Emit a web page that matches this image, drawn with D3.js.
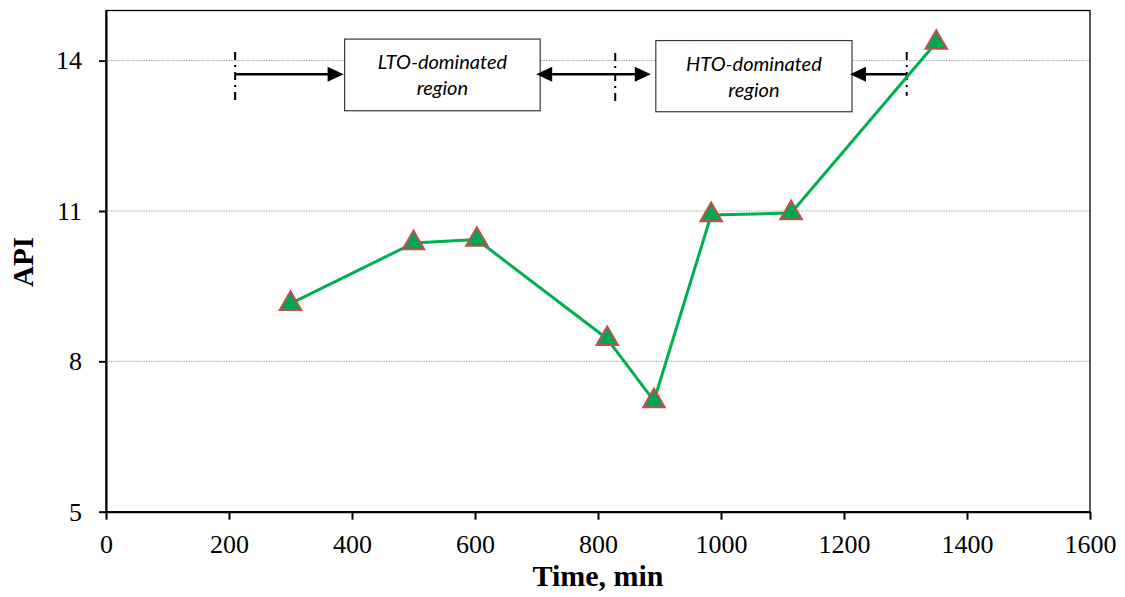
<!DOCTYPE html>
<html>
<head>
<meta charset="utf-8">
<script src="https://cdn.jsdelivr.net/npm/d3@7"></script>
<style>
  html, body { margin: 0; padding: 0; background: #fff; }
  svg { display: block; }
  .serif text { font-family: "Liberation Serif", "Times New Roman", serif; }
</style>
</head>
<body>
<svg id="chart" width="1125" height="597"></svg>
<script>
// Measured API over the course of the run
const timeMin = [300, 500, 603, 815, 891, 984, 1114, 1350];
const apiValues = [9.15, 10.36, 10.43, 8.45, 7.21, 10.92, 10.96, 14.36];

// Axis ticks
const xTicks = [0, 200, 400, 600, 800, 1000, 1200, 1400, 1600];
const yTicks = [5, 8, 11, 14];
const gridValues = [8, 11, 14];

// Region boundaries (min) and the labelled regions between them
const boundaries = [210, 828, 1302];
const regionLabels = [["LTO-dominated", "region"], ["HTO-dominated", "region"]];
const regionStart = [388, 894];
const regionEnd = [706, 1213];
const regionTop = [14.43, 14.4];
const regionBottom = [13.0, 12.98];

const W = 1125, H = 597;
const plot = { left: 106, right: 1090, top: 10.5, bottom: 511.7 };
const SERIF = "'Liberation Serif', 'Times New Roman', serif";

const svg = d3.select("#chart");
const x = d3.scaleLinear().domain([0, 1600]).range([plot.left, plot.right]);
const y = d3.scaleLinear().domain([5, 15]).range([plot.bottom, plot.top]);

// Dotted horizontal gridlines
svg.append("g").selectAll("line").data(gridValues).join("line")
  .attr("x1", plot.left).attr("x2", plot.right)
  .attr("y1", d => y(d)).attr("y2", d => y(d))
  .attr("stroke", "#a6a6a6").attr("stroke-width", 1)
  .attr("stroke-dasharray", "1.5,1");

// Plot frame
svg.append("rect")
  .attr("x", plot.left).attr("y", plot.top)
  .attr("width", plot.right - plot.left).attr("height", plot.bottom - plot.top)
  .attr("fill", "none").attr("stroke", "#000").attr("stroke-width", 1.3);

// Axes
const xAxis = svg.append("g")
  .attr("class", "serif")
  .attr("transform", `translate(0,${plot.bottom})`)
  .call(d3.axisBottom(x).tickValues(xTicks).tickSize(8).tickSizeOuter(0).tickFormat(d3.format("d")));
xAxis.attr("font-family", SERIF).attr("font-size", 26);
xAxis.selectAll("text")
  .attr("y", 41).attr("dy", null)
  .style("font-family", SERIF).style("font-size", "26px").attr("fill", "#000");

const yAxis = svg.append("g")
  .attr("class", "serif")
  .attr("transform", `translate(${plot.left},0)`)
  .call(d3.axisLeft(y).tickValues(yTicks).tickSize(7).tickSizeOuter(0).tickPadding(17).tickFormat(d3.format("d")));
yAxis.attr("font-family", SERIF).attr("font-size", 26);
yAxis.selectAll("text")
  .style("font-family", SERIF).style("font-size", "26px").attr("fill", "#000");

[xAxis, yAxis].forEach(g => {
  g.select(".domain").attr("stroke", "#000").attr("stroke-width", 2);
  g.selectAll(".tick line").attr("stroke", "#000").attr("stroke-width", 2);
});

// Axis titles
svg.append("text")
  .attr("x", (plot.left + plot.right) / 2).attr("y", 586)
  .attr("text-anchor", "middle")
  .style("font-family", SERIF)
  .attr("font-weight", "bold").attr("font-size", 30)
  .text("Time, min");

svg.append("text")
  .attr("transform", `translate(33,262) rotate(-90)`)
  .attr("text-anchor", "middle")
  .style("font-family", SERIF)
  .attr("font-weight", "bold").attr("font-size", 29)
  .text("API");

// Region annotations
const ann = svg.append("g");
const arrowY = y(13.73);

// dash-dot boundary markers
const bTop = [14.17, 14.15, 14.17];
const bBottom = [13.2, 13.14, 13.3];
ann.selectAll("line.boundary").data(boundaries).join("line")
  .attr("class", "boundary")
  .attr("x1", d => x(d)).attr("x2", d => x(d))
  .attr("y1", (d, i) => y(bTop[i])).attr("y2", (d, i) => y(bBottom[i]))
  .attr("stroke", "#000").attr("stroke-width", 2)
  .attr("stroke-dasharray", "8,5,2,5");

// region boxes
const boxes = ann.selectAll("g.region").data(regionLabels).join("g").attr("class", "region");
boxes.append("rect")
  .attr("x", (d, i) => x(regionStart[i]))
  .attr("y", (d, i) => y(regionTop[i]))
  .attr("width", (d, i) => x(regionEnd[i]) - x(regionStart[i]))
  .attr("height", (d, i) => y(regionBottom[i]) - y(regionTop[i]))
  .attr("fill", "#fff").attr("stroke", "#3a3a3a").attr("stroke-width", 1.2);
boxes.each(function (lines, i) {
  const cx = (x(regionStart[i]) + x(regionEnd[i])) / 2;
  const t = d3.select(this).append("text")
    .attr("text-anchor", "middle")
    .style("font-family", "Lato, 'Open Sans', sans-serif")
    .attr("font-style", "italic").attr("font-size", 20).attr("fill", "#000");
  lines.forEach((s, k) => {
    t.append("tspan").attr("x", cx).attr("y", y(regionTop[i]) + 30 + k * 26).text(s);
  });
});

// arrows between the boundary markers and the region boxes
function arrow(x0, x1, both) {
  const head = 16, half = 7.5;
  const dir = Math.sign(x1 - x0);
  const s0 = both ? x0 + dir * head : x0;
  const s1 = x1 - dir * head;
  ann.append("line")
    .attr("x1", s0).attr("x2", s1 + dir * 1)
    .attr("y1", arrowY).attr("y2", arrowY)
    .attr("stroke", "#000").attr("stroke-width", 2.5);
  const tip = (xt, d) => ann.append("path")
    .attr("d", `M${xt},${arrowY} L${xt - d * head},${arrowY - half} L${xt - d * head},${arrowY + half} Z`)
    .attr("fill", "#000");
  tip(x1, dir);
  if (both) tip(x0, -dir);
}
arrow(x(boundaries[0]), x(regionStart[0]) - 1, false);
arrow(x(regionEnd[0]) - 4, x(regionStart[1]) - 5, true);
arrow(x(boundaries[2]), x(regionEnd[1]) - 2, false);

// Data line and markers
const pts = timeMin.map((t, i) => [t, apiValues[i]]);
svg.append("path")
  .datum(pts)
  .attr("fill", "none").attr("stroke", "#00B050").attr("stroke-width", 3)
  .attr("stroke-linejoin", "round")
  .attr("d", d3.line().x(d => x(d[0])).y(d => y(d[1])));

svg.append("g").selectAll("path").data(pts).join("path")
  .attr("transform", d => `translate(${x(d[0])},${y(d[1])})`)
  .attr("d", d3.symbol(d3.symbolTriangle, 200))
  .attr("fill", "#00A651").attr("stroke", "#C0504D").attr("stroke-width", 2);
</script>
</body>
</html>
